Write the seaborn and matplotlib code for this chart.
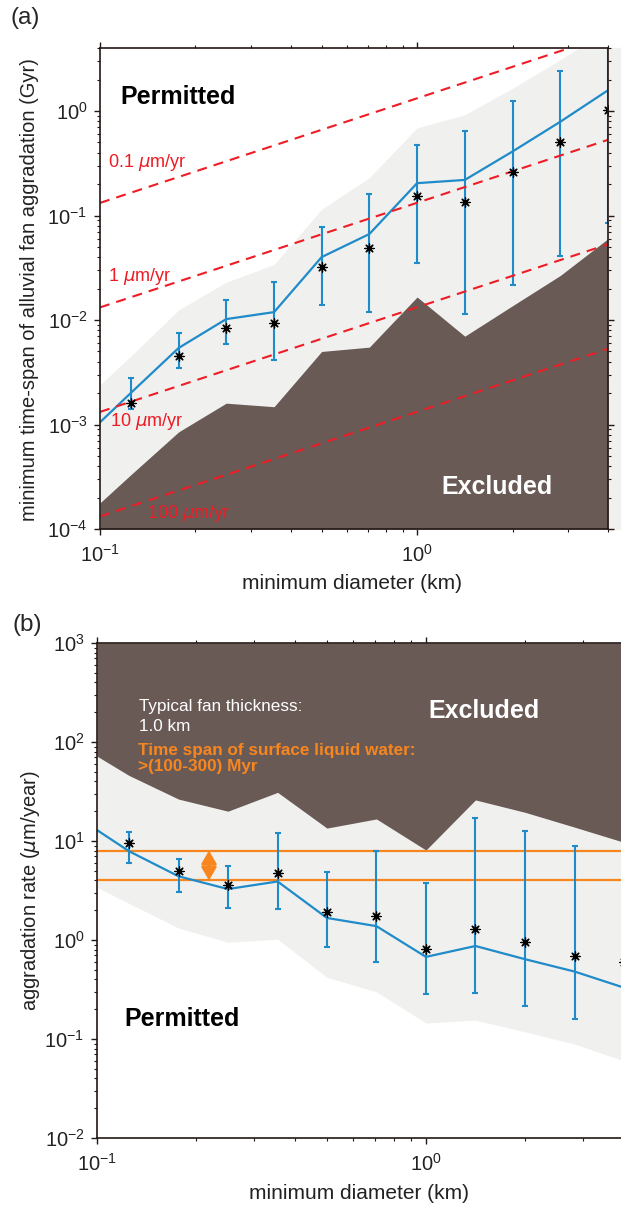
import numpy as np
import matplotlib
matplotlib.use('Agg')
import matplotlib.pyplot as plt
import seaborn as sns
from matplotlib.ticker import LogLocator, NullFormatter
from matplotlib.patches import Rectangle

# diameters (km); line / bands start at 0.1, points start at 0.125
diam = [0.1, 0.125, 0.177, 0.25, 0.354, 0.5, 0.707, 1.0, 1.414, 2.0, 2.83, 4.0]
diam_pts = diam[1:]

# (a) minimum time-span (Gyr)
span_line = [1.05e-3, 2.0e-3, 5.4e-3, 1.02e-2, 1.19e-2, 0.040, 0.0665, 0.204, 0.219, 0.41, 0.79, 1.58]
span_star = [1.6e-3, 4.5e-3, 8.3e-3, 9.3e-3, 0.032, 0.049, 0.154, 0.135, 0.26, 0.51, 1.02]
span_lo = [1.4e-3, 3.5e-3, 5.9e-3, 4.1e-3, 0.0139, 0.0119, 0.035, 0.0114, 0.0216, 0.041, 0.085]
span_hi = [2.8e-3, 7.5e-3, 1.55e-2, 2.3e-2, 0.078, 0.16, 0.47, 0.64, 1.25, 2.4, 6.0]
span_grey = [2.4e-3, 4.5e-3, 0.0125, 0.023, 0.034, 0.115, 0.23, 0.69, 0.92, 1.65, 3.1, 6.0]
span_excl = [1.78e-4, 3.3e-4, 8.5e-4, 1.6e-3, 1.48e-3, 5.0e-3, 5.5e-3, 0.0166, 7.0e-3, 0.0137, 0.0267, 0.06]

# constant aggradation-rate lines: value at d=0.1 and d=4
rate_names = ['0.1 $\\mu$m/yr', '1 $\\mu$m/yr', '10 $\\mu$m/yr', '100 $\\mu$m/yr']
rate_start = [0.132, 0.0132, 1.32e-3, 1.32e-4]
rate_end = [5.3, 0.53, 0.053, 5.3e-3]
rate_lab_x = [0.106, 0.106, 0.1075, 0.1407]
rate_lab_y = [0.325, 0.0258, 1.06e-3, 1.42e-4]

# (b) aggradation rate (um/year)
agg_line = [12.9, 7.9, 4.4, 3.27, 3.9, 1.67, 1.38, 0.675, 0.87, 0.64, 0.48, 0.33]
agg_star = [9.5, 5.0, 3.6, 4.75, 1.92, 1.75, 0.81, 1.29, 0.95, 0.69, 0.6]
agg_lo = [6.0, 3.05, 2.1, 2.05, 0.85, 0.6, 0.285, 0.29, 0.215, 0.16, 0.1]
agg_hi = [12.3, 6.6, 5.6, 12.0, 4.9, 7.9, 3.76, 17.0, 12.7, 8.9, 12.0]
agg_grey = [3.4, 2.35, 1.32, 0.95, 1.02, 0.42, 0.30, 0.145, 0.155, 0.118, 0.089, 0.06]
agg_excl = [72, 46, 26.5, 20, 31, 13.5, 16.7, 8.1, 26, 19.5, 13.8, 9.7]
water_rates = [8.0, 4.0]

BLUE = '#1f8bc9'
GREY = '#f0f0ef'
BROWN = '#6a5a56'
RED = '#ee1c25'
ORANGE = '#f7861f'
AXC = '#231815'

sns.set_style('ticks')
plt.rcParams['font.family'] = ['Liberation Sans', 'DejaVu Sans']
plt.rcParams['mathtext.fontset'] = 'dejavusans'
plt.rcParams['axes.linewidth'] = 1.2
plt.rcParams['axes.edgecolor'] = AXC

fig = plt.figure(figsize=(6.21, 12.05), dpi=100)
ax_a = fig.add_axes([100 / 621, 1 - 529 / 1205, 508 / 621, 481 / 1205])
ax_b = fig.add_axes([97 / 621, 1 - 1138 / 1205, 527 / 621, 495 / 1205])

fig.add_artist(Rectangle((609 / 621, 1 - 529 / 1205), 12 / 621, 481 / 1205,
                         transform=fig.transFigure, color=GREY, zorder=0))


def style_axes(ax, ylim):
    ax.set_xscale('log')
    ax.set_yscale('log')
    ax.set_xlim(0.1, 4)
    ax.set_ylim(*ylim)
    ax.xaxis.set_major_locator(LogLocator(base=10, numticks=20))
    ax.yaxis.set_major_locator(LogLocator(base=10, numticks=20))
    ax.xaxis.set_minor_locator(LogLocator(base=10, subs=np.arange(2, 10), numticks=20))
    ax.yaxis.set_minor_locator(LogLocator(base=10, subs=np.arange(2, 10), numticks=20))
    ax.xaxis.set_minor_formatter(NullFormatter())
    ax.yaxis.set_minor_formatter(NullFormatter())
    ax.tick_params(which='both', direction='out', top=True, right=True,
                   color=AXC, labelsize=14.5, labelcolor='#222222')
    ax.tick_params(which='major', length=4, width=1.0)
    ax.tick_params(which='minor', length=2, width=0.8)
    ax.tick_params(axis='x', pad=7)
    ax.tick_params(axis='y', pad=5)
    for sp in ax.spines.values():
        sp.set_zorder(6)


# ---- panel (a)
ax = ax_a
style_axes(ax, (1e-4, 10 ** 0.603))
ax.fill_between(diam, 1e-4, span_grey, color=GREY, lw=0, zorder=1)
ax.fill_between(diam, 1e-4, span_excl, color=BROWN, lw=0, zorder=1.5)
for y0, y1 in zip(rate_start, rate_end):
    ax.plot([0.1, 4], [y0, y1], color=RED, lw=1.5, dashes=(4.8, 3.4), zorder=4)
for name, lx, ly in zip(rate_names, rate_lab_x, rate_lab_y):
    ax.text(lx, ly, name, color=RED, fontsize=13, ha='left', va='center', zorder=5)
ax.errorbar(diam_pts, span_star, fmt='none',
            yerr=[np.array(span_star) - np.array(span_lo), np.array(span_hi) - np.array(span_star)],
            ecolor=BLUE, elinewidth=1.5, capsize=2, capthick=1.5, zorder=3)
sns.lineplot(x=diam, y=span_line, ax=ax, color=BLUE, lw=1.6, zorder=3)
sns.scatterplot(x=diam_pts, y=span_star, ax=ax, marker=(8, 2, 0), s=45,
                color='black', linewidth=0.9, zorder=5)
ax.text(0.1157, 1.36, 'Permitted', fontsize=18, fontweight='bold', color='black',
        ha='left', va='center', zorder=5)
ax.text(1.19, 2.5e-4, 'Excluded', fontsize=18, fontweight='bold', color='white',
        ha='left', va='center', zorder=5)
ax.set_xlabel('minimum diameter (km)', fontsize=15, color='#222222')
ax.set_ylabel('minimum time-span of alluvial fan aggradation (Gyr)', fontsize=14.5, color='#222222')
ax.xaxis.set_label_coords(0.496, -0.094)
ax.yaxis.set_label_coords(-0.12, 0.497)
fig.text(10 / 621, 1 - 18 / 1205, '(a)', fontsize=17.5, ha='left', va='center')

# ---- panel (b)
ax = ax_b
style_axes(ax, (1e-2, 1e3))
ax.fill_between(diam, agg_grey, 1e3, color=GREY, lw=0, zorder=1)
ax.fill_between(diam, agg_excl, 1e3, color=BROWN, lw=0, zorder=1.5)
for r in water_rates:
    ax.axhline(r, color=ORANGE, lw=1.6, zorder=2.5)
ax.annotate('', xy=(0.219, water_rates[0]), xytext=(0.219, water_rates[1]),
            arrowprops=dict(arrowstyle='<|-|>,head_length=0.65,head_width=0.38',
                            color=ORANGE, lw=2.0, mutation_scale=12,
                            shrinkA=0, shrinkB=0), zorder=2.6)
ax.errorbar(diam_pts, agg_star, fmt='none',
            yerr=[np.array(agg_star) - np.array(agg_lo), np.array(agg_hi) - np.array(agg_star)],
            ecolor=BLUE, elinewidth=1.5, capsize=2, capthick=1.5, zorder=3)
sns.lineplot(x=diam, y=agg_line, ax=ax, color=BLUE, lw=1.6, zorder=3)
sns.scatterplot(x=diam_pts, y=agg_star, ax=ax, marker=(8, 2, 0), s=45,
                color='black', linewidth=0.9, zorder=5)
ax.text(0.134, 226, 'Typical fan thickness:', fontsize=12.3, color='white', ha='left', va='center')
ax.text(0.134, 145, '1.0 km', fontsize=12.3, color='white', ha='left', va='center')
ax.text(0.133, 83, 'Time span of surface liquid water:', fontsize=12.3, fontweight='bold',
        color=ORANGE, ha='left', va='center')
ax.text(0.133, 57, '>(100-300) Myr', fontsize=12.3, fontweight='bold',
        color=ORANGE, ha='left', va='center')
ax.text(1.014, 206, 'Excluded', fontsize=18, fontweight='bold', color='white',
        ha='left', va='center', zorder=5)
ax.text(0.1208, 0.159, 'Permitted', fontsize=18, fontweight='bold', color='black',
        ha='left', va='center', zorder=5)
ax.set_xlabel('minimum diameter (km)', fontsize=15, color='#222222')
ax.set_ylabel('aggradation rate ($\\mu$m/year)', fontsize=14.5, color='#222222')
ax.xaxis.set_label_coords(0.497, -0.092)
ax.yaxis.set_label_coords(-0.105, 0.5)
fig.text(12 / 621, 1 - 625 / 1205, '(b)', fontsize=17.5, ha='left', va='center')

fig.savefig('out.png', dpi=100)
